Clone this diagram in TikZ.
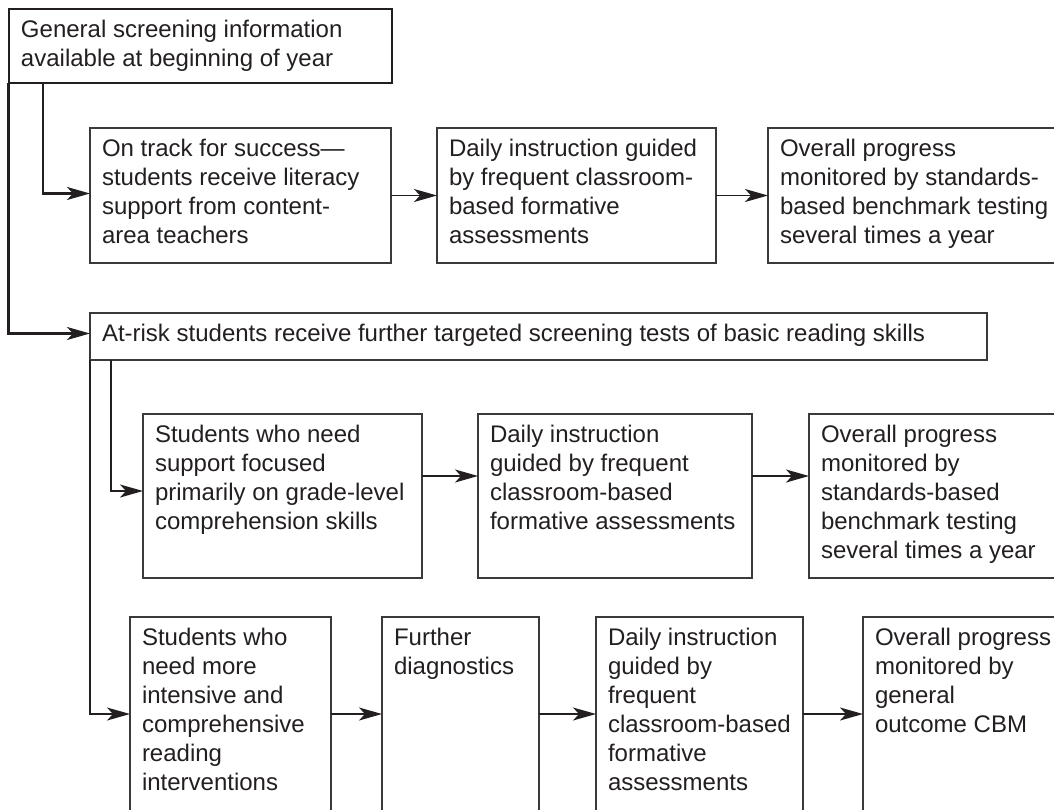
\documentclass[tikz,border=0pt]{standalone}
\usepackage{fontspec}
\setmainfont{Liberation Sans}
\usetikzlibrary{arrows.meta}
\definecolor{ink}{HTML}{231F20}
\definecolor{edge}{HTML}{3A3A3A}
\newcommand{\boxtxt}[3]{\begin{minipage}[t][#2][t]{#1}\raggedright\leftskip=12pt\rule{0pt}{28.5pt}#3\end{minipage}}
\begin{document}
\begin{tikzpicture}[x=1pt,y=-1pt,
  fbox/.style={draw=edge, line width=1.5pt, inner sep=0pt, outer sep=0pt, anchor=north west, text=ink, font=\fontsize{24}{29}\selectfont},
  headbox/.style={fbox, draw=ink, line width=2.6pt},
  arr/.style={draw=ink, line width=1.4pt, -{Stealth[length=23pt,width=13pt,inset=6pt]}},
  harr/.style={draw=ink, line width=2.5pt, -{Stealth[length=23pt,width=13pt,inset=6pt]}}]
\useasboundingbox (0,0) rectangle (1054,809);
\fill[white] (0,0) rectangle (1054,809);
\begin{scope}
\clip (0,0) rectangle (1054,809);
% top
\node[headbox] (gen) at (9,9) {\boxtxt{383pt}{74pt}{General screening information\\available at beginning of year}};
% row 1
\node[fbox] (ontrack) at (90,128) {\boxtxt{301pt}{135pt}{On track for success---\\students receive literacy\\support from content-\\area teachers}};
\node[fbox] (daily1) at (437,128) {\boxtxt{279pt}{135pt}{Daily instruction guided\\by frequent classroom-\\based formative\\assessments}};
\node[fbox] (over1) at (768,128) {\boxtxt{320pt}{135pt}{Overall progress\\monitored by standards-\\based benchmark testing\\several times a year}};
% at-risk
\node[fbox] (atrisk) at (90,313) {\boxtxt{897pt}{47pt}{At-risk students receive further targeted screening tests of basic reading skills}};
% row 2
\node[fbox] (stud) at (143,414) {\boxtxt{279pt}{164pt}{Students who need\\support focused\\primarily on grade-level\\comprehension skills}};
\node[fbox] (daily2) at (478,414) {\boxtxt{274pt}{164pt}{Daily instruction\\guided by frequent\\classroom-based\\formative assessments}};
\node[fbox] (over2) at (809,414) {\boxtxt{280pt}{164pt}{Overall progress\\monitored by\\standards-based\\benchmark testing\\several times a year}};
% row 3
\node[fbox] (need) at (130,617) {\boxtxt{201pt}{194pt}{Students who\\need more\\intensive and\\comprehensive\\reading\\interventions}};
\node[fbox] (diag) at (382,617) {\boxtxt{157pt}{194pt}{Further\\diagnostics}};
\node[fbox] (daily3) at (596,617) {\boxtxt{207pt}{194pt}{Daily instruction\\guided by\\frequent\\classroom-based\\formative\\assessments}};
\node[fbox] (over3) at (863,617) {\boxtxt{220pt}{194pt}{Overall progress\\monitored by\\general\\outcome CBM}};
% connectors from top box
\draw[harr] ([xshift=34pt]gen.south west) |- ([yshift=2pt]ontrack.west);
\draw[harr] ([xshift=-0.5pt]gen.south west) |- ([yshift=3pt]atrisk.west);
% row 1
\draw[arr] (ontrack) -- (daily1);
\draw[arr] (daily1) -- (over1.west);
% from at-risk
\draw[arr] ([xshift=21pt]atrisk.south west) |- ([yshift=5pt]stud.west);
\draw[arr] (atrisk.south west) |- (need.west);
% row 2
\draw[arr] ([yshift=20pt]stud.east) -- ([yshift=20pt]daily2.west);
\draw[arr] ([yshift=20pt]daily2.east) -- ([yshift=20pt]over2.west);
% row 3
\draw[arr] (need) -- (diag);
\draw[arr] (diag) -- (daily3);
\draw[arr] (daily3) -- (over3);
\end{scope}
\end{tikzpicture}
\end{document}
